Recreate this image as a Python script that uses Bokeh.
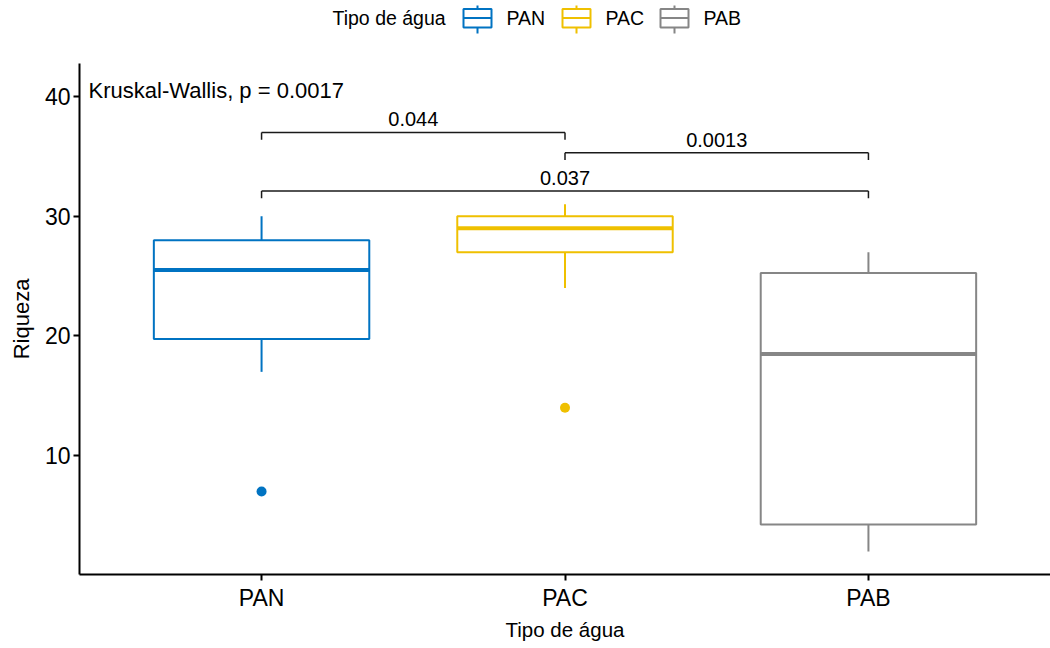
from bokeh.plotting import figure
from bokeh.models import Range1d, FixedTicker, ColumnDataSource
from bokeh.layouts import column
from bokeh.embed import file_html
from bokeh.resources import INLINE
from bokeh.core.properties import value

# ---------------- data ----------------
groups = ["PAN", "PAC", "PAB"]
colors = ["#0073C2", "#EFC000", "#868686"]
whisker_low = [17.0, 24.0, 2.0]
q1 = [19.75, 27.0, 4.25]
median = [25.5, 29.0, 18.5]
q3 = [28.0, 30.0, 25.25]
whisker_high = [30.0, 31.0, 27.0]
outlier_group = ["PAN", "PAC"]
outlier_value = [7.0, 14.0]
comp_from = ["PAN", "PAC", "PAN"]
comp_to = ["PAC", "PAB", "PAB"]
comp_label = ["0.044", "0.0013", "0.037"]
comp_y = [37.0, 35.3, 32.1]
kruskal_label = "Kruskal-Wallis, p = 0.0017"
y_ticks = [10, 20, 30, 40]
x_title = "Tipo de água"
y_title = "Riqueza"
legend_title = "Tipo de água"

FONT = value("Liberation Sans")
pos = {g: i + 1 for i, g in enumerate(groups)}
xs = [pos[g] for g in groups]
BOX_W = 0.71
TIP = 0.6

W = 1050
LEFT = 79
LEG_H = 53

# ---------------- main plot ----------------
p = figure(width=W, height=593, output_backend="svg", toolbar_location=None,
           x_range=Range1d(0.4, 3.6), y_range=Range1d(0.07, 42.76),
           min_border_left=LEFT, min_border_right=0, min_border_top=10,
           min_border_bottom=72)
p.outline_line_color = None
p.grid.visible = False
p.background_fill_color = "white"
p.border_fill_color = "white"

src = ColumnDataSource(dict(
    x=xs, lo=whisker_low, q1=q1, med=median, q3=q3, hi=whisker_high,
    color=colors,
    left=[x - BOX_W / 2 for x in xs], right=[x + BOX_W / 2 for x in xs]))

p.segment(x0="x", y0="q3", x1="x", y1="hi", line_color="color", line_width=2, source=src)
p.segment(x0="x", y0="q1", x1="x", y1="lo", line_color="color", line_width=2, source=src)
p.vbar(x="x", bottom="q1", top="q3", width=BOX_W, fill_color="white",
       line_color="color", line_width=2, source=src)
p.segment(x0="left", y0="med", x1="right", y1="med", line_color="color",
          line_width=4, source=src)

osrc = ColumnDataSource(dict(
    x=[pos[g] for g in outlier_group], y=outlier_value,
    color=[colors[groups.index(g)] for g in outlier_group]))
p.scatter(x="x", y="y", size=10, color="color", line_color=None, source=osrc)

# comparison brackets
bx0 = [pos[a] for a in comp_from]
bx1 = [pos[b] for b in comp_to]
bsrc = ColumnDataSource(dict(x0=bx0, x1=bx1, y=comp_y,
                             ytip=[v - TIP for v in comp_y],
                             xm=[(a + b) / 2 for a, b in zip(bx0, bx1)],
                             label=comp_label))
BR = "#1a1a1a"
p.segment(x0="x0", y0="y", x1="x1", y1="y", line_color=BR, line_width=1.5, source=bsrc)
p.segment(x0="x0", y0="y", x1="x0", y1="ytip", line_color=BR, line_width=1.5, source=bsrc)
p.segment(x0="x1", y0="y", x1="x1", y1="ytip", line_color=BR, line_width=1.5, source=bsrc)
p.text(x="xm", y="y", text="label", text_align="center", text_baseline="middle",
       y_offset=-13, text_font=FONT, text_font_size="20px", text_color="black",
       source=bsrc)

p.text(x=[0.43], y=[40.0], text=[kruskal_label], text_align="left",
       text_baseline="middle", y_offset=-6, text_font=FONT, text_font_size="22px",
       text_color="black")

# axes
p.xaxis.ticker = FixedTicker(ticks=xs)
p.xaxis.major_label_overrides = {x: g for x, g in zip(xs, groups)}
p.yaxis.ticker = FixedTicker(ticks=y_ticks)
p.xaxis.axis_label = x_title
p.yaxis.axis_label = y_title
for ax in (p.xaxis, p.yaxis):
    ax.axis_line_color = "black"
    ax.axis_line_width = 2
    ax.major_tick_line_color = "black"
    ax.major_tick_line_width = 2
    ax.major_tick_out = 6
    ax.major_tick_in = 0
    ax.minor_tick_line_color = None
    ax.major_label_text_font = "Liberation Sans"
    ax.major_label_text_font_size = "23px"
    ax.major_label_text_color = "black"
    ax.axis_label_text_font = "Liberation Sans"
    ax.axis_label_text_font_style = "normal"
    ax.axis_label_text_color = "black"
p.xaxis.major_label_standoff = 4
p.yaxis.major_label_standoff = 3
p.xaxis.axis_label_text_font_size = "20.5px"
p.yaxis.axis_label_text_font_size = "22px"
p.xaxis.axis_label_standoff = 4
p.yaxis.axis_label_standoff = 8

# ---------------- legend strip (page-pixel coordinates) ----------------
lg = figure(width=W, height=LEG_H, output_backend="svg", toolbar_location=None,
            x_range=Range1d(LEFT, W), y_range=Range1d(LEG_H, 0),
            min_border_left=LEFT, min_border_right=0,
            min_border_top=0, min_border_bottom=0)
lg.axis.visible = False
lg.grid.visible = False
lg.outline_line_color = None
lg.background_fill_color = "white"
lg.border_fill_color = "white"

key_left = [463, 562, 660]
KEY_W = 28
key_top, key_bot, key_mid = 8.5, 27, 17.5
wh_top, wh_bot = 5, 33
ksrc = ColumnDataSource(dict(
    l=key_left, r=[k + KEY_W for k in key_left], c=[k + KEY_W / 2 for k in key_left],
    color=colors, label=groups, lx=[k + KEY_W + 15 for k in key_left]))
lg.segment(x0="c", y0=wh_top, x1="c", y1=wh_bot, line_color="color", line_width=2, source=ksrc)
lg.quad(left="l", right="r", top=key_top, bottom=key_bot, fill_color="white",
        line_color="color", line_width=2, source=ksrc)
lg.segment(x0="l", y0=key_mid, x1="r", y1=key_mid, line_color="color", line_width=2, source=ksrc)
lg.text(x="lx", y=key_mid, text="label", text_align="left", text_baseline="middle",
        text_font=FONT, text_font_size="19.5px", text_color="black", source=ksrc)
lg.text(x=[332], y=[key_mid], text=[legend_title], text_align="left",
        text_baseline="middle", text_font=FONT, text_font_size="19.5px",
        text_color="black")

layout = column(lg, p, spacing=0)
open("out.html", "w").write(file_html(layout, INLINE))
